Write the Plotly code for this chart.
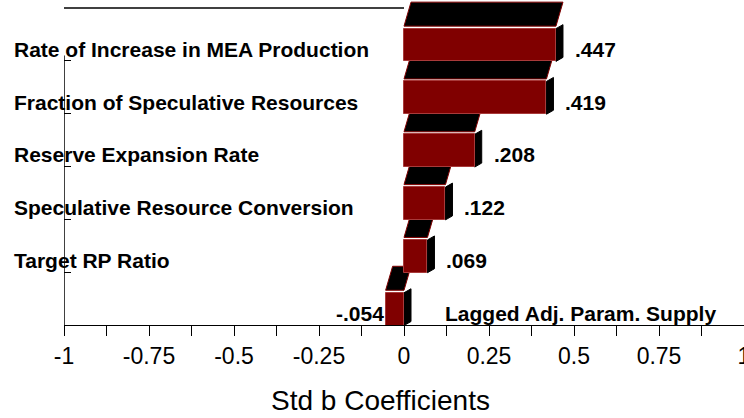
import plotly.graph_objects as go

# data (top row first)
categories = ["Rate of Increase in MEA Production",
              "Fraction of Speculative Resources",
              "Reserve Expansion Rate",
              "Speculative Resource Conversion",
              "Target RP Ratio",
              "Lagged Adj. Param. Supply"]
coefficients = [0.447, 0.419, 0.208, 0.122, 0.069, -0.054]
tick_values = [-1, -0.75, -0.5, -0.25, 0, 0.25, 0.5, 0.75, 1]
tick_labels = ["-1", "-0.75", "-0.5", "-0.25", "0", "0.25", "0.5", "0.75", "1"]

MAROON = "#800000"
FONT = "Arial, Liberation Sans, sans-serif"

# plot area is 680 px wide for x in [-1, 1] and ~52.8 px per category row
PX_X = 2.0 / 680
PX_Y = 1 / 52.83
DEPTH_X = 7 * PX_X      # 3d shift to the right
TOP_H = 24 * PX_Y       # height of the black "top" face
GAP = 2.5 * PX_Y        # white gap between top face and front face
SIDE_DY = 4 * PX_Y      # slant of the right side face
FRONT_H = 0.62          # bar thickness in rows
FRONT_OFF = 0.39        # front face top, relative to row start

rows = list(range(len(categories)))
bar_centres = [r + FRONT_OFF + FRONT_H / 2 for r in rows]


def fmt(v):
    # ".447" / "-.054" style labels
    return f"{v:.3f}".replace("0.", ".", 1)


fig = go.Figure()
fig.add_trace(go.Bar(
    x=coefficients,
    y=bar_centres,
    base=0,
    width=FRONT_H,
    orientation="h",
    marker=dict(color=MAROON, line=dict(color="#a83a3a", width=1)),
    hoverinfo="x",
    showlegend=False,
))

shapes = []
for r, v in zip(rows, coefficients):
    x0, x1 = min(0, v), max(0, v)
    ft = r + FRONT_OFF
    yb = ft - GAP
    # top face
    shapes.append(dict(
        type="path", layer="below", xref="x", yref="y",
        path=(f"M {x0},{yb} L {x1},{yb} L {x1 + DEPTH_X},{yb - TOP_H} "
              f"L {x0 + DEPTH_X},{yb - TOP_H} Z"),
        fillcolor="black", line=dict(color=MAROON, width=1),
    ))
    # right side face
    shapes.append(dict(
        type="path", layer="below", xref="x", yref="y",
        path=(f"M {x1},{ft} L {x1 + DEPTH_X},{ft - SIDE_DY} "
              f"L {x1 + DEPTH_X},{ft + FRONT_H - SIDE_DY} L {x1},{ft + FRONT_H} Z"),
        fillcolor="black", line=dict(color="black", width=1),
    ))

# frame pieces: short top line and left axis line
shapes.append(dict(type="line", xref="x", yref="y", x0=-1, x1=0, y0=0, y1=0,
                   line=dict(color="black", width=1.5)))
shapes.append(dict(type="line", xref="x", yref="y", x0=-1, x1=-1, y0=0.9, y1=6,
                   line=dict(color="black", width=1.5)))

bold = dict(family=FONT, size=21, color="black", weight="bold")
annotations = []
for r, name, v in zip(rows, categories, coefficients):
    ly = r + 0.78
    if r < len(rows) - 1:
        annotations.append(dict(x=-0.0765, xref="paper", y=ly, yref="y",
                                text=name, showarrow=False, xanchor="left",
                                yanchor="middle", font=bold))
    else:
        annotations.append(dict(x=0.115, xref="x", y=ly, yref="y",
                                text=name, showarrow=False, xanchor="left",
                                yanchor="middle", font=bold))
    if v >= 0:
        annotations.append(dict(x=v + 0.05, xref="x", y=ly, yref="y",
                                text=fmt(v), showarrow=False, xanchor="left",
                                yanchor="middle", font=bold))
    else:
        annotations.append(dict(x=v, xref="x", y=ly, yref="y",
                                text=fmt(v), showarrow=False, xanchor="right",
                                yanchor="middle", font=bold))

annotations.append(dict(x=0.465, xref="paper", y=-0.232, yref="paper",
                        text="Std b Coefficients", showarrow=False,
                        xanchor="center", yanchor="middle",
                        font=dict(family=FONT, size=28, color="black")))

minor_ticks = [(a + b) / 2 for a, b in zip(tick_values[:-1], tick_values[1:])]

fig.update_layout(
    width=744, height=418,
    margin=dict(l=64, r=0, t=0, b=93),
    paper_bgcolor="white", plot_bgcolor="white",
    shapes=shapes, annotations=annotations,
    bargap=0,
    xaxis=dict(range=[-1, 1], tickmode="array", tickvals=tick_values,
               ticktext=tick_labels, ticks="outside", ticklen=10,
               tickcolor="black", showline=True, linecolor="black",
               linewidth=1, showgrid=False, zeroline=False,
               automargin=False, ticklabeloverflow="allow",
               tickfont=dict(family=FONT, size=23, color="black"),
               minor=dict(tickmode="array", tickvals=minor_ticks,
                          ticks="outside", ticklen=10, tickcolor="black")),
    yaxis=dict(range=[6, -0.152], tickmode="array", tickvals=rows[1:],
               ticks="inside", ticklen=7, tickcolor="black",
               showticklabels=False, showline=False, showgrid=False,
               zeroline=False, automargin=False),
)

# the page's default body margin would push the chart 8px off
fig.write_html("out.html", config={"displayModeBar": False},
               post_script="document.body.style.margin='0';")
